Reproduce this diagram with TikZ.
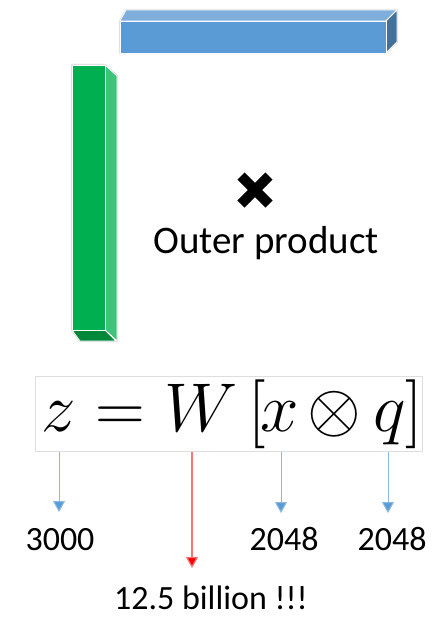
\RequirePackage{fix-cm}
\documentclass[tikz,border=0pt]{standalone}
\usepackage{fontspec}
\setmainfont{Carlito}
\usetikzlibrary{arrows.meta}
\definecolor{bfront}{HTML}{5B9BD5}
\definecolor{btop}{HTML}{7FAEDD}
\definecolor{bright}{HTML}{41719C}
\definecolor{gfront}{HTML}{00B050}
\definecolor{gright}{HTML}{3CC47A}
\definecolor{gbot}{HTML}{00883A}
\definecolor{arrblue}{HTML}{5B9BD5}
\tikzset{
  face/.style={line width=0.8pt, draw=white, line join=round},
  halo/.style={line width=2.2pt, draw=black!12, line join=round},
  mathsym/.style={anchor=base, inner sep=0pt, font=\fontsize{69}{80}\selectfont},
  lbl/.style={anchor=base, inner sep=0pt, font=\fontsize{34}{40}\selectfont},
  arr/.style={draw=arrblue!70, line width=1pt, -{Triangle[length=11pt,width=12pt,fill=arrblue]}},
  redarr/.style={draw=red!55, line width=1.2pt, -{Triangle[length=11pt,width=12pt,fill=red]}},
}
\begin{document}
\begin{tikzpicture}[x=1pt,y=-1pt]
\useasboundingbox (0,0) rectangle (439,619);
% blue bar
\draw[halo] (120,21) -- (126,10) -- (397,10) -- (397,42) -- (386,53) -- (120,53) -- cycle;
\filldraw[face, fill=btop] (120,21) -- (126,10) -- (397,10) -- (386,21) -- cycle;
\filldraw[face, fill=bright] (386,21) -- (397,10) -- (397,42) -- (386,53) -- cycle;
\filldraw[face, fill=bfront] (120,21) rectangle (386,53);
% green bar
\draw[halo] (72,65) -- (105,65) -- (117,76) -- (117,341) -- (80,341) -- (72,330) -- cycle;
\filldraw[face, fill=gright] (105,65) -- (117,76) -- (117,341) -- (105,330) -- cycle;
\filldraw[face, fill=gbot] (72,330) -- (105,330) -- (116,341) -- (80,341) -- cycle;
\filldraw[face, fill=gfront] (72,65) rectangle (105,330);
% cross
\draw[line width=10pt] (241,176) -- (269,204);
\draw[line width=10pt] (269,176) -- (241,204);
\node[anchor=base, inner sep=0pt, font=\fontsize{39}{47}\selectfont] (op) at (266,253) {Outer product};
% equation box
\node[draw=black!13, line width=1pt, minimum width=387pt, minimum height=75pt, inner sep=0pt] (box) at (228.5,413.5) {};
\node[mathsym] (z) at (59,431) {$z$};
\node[mathsym] (eq) at (120,431) {$=$};
\node[mathsym] (W) at (201,431) {$W$};
\node[mathsym] (lb) at (257,431) {$[$};
\node[mathsym] (x) at (280,431) {$x$};
\node[mathsym] (ot) at (334,431) {$\otimes$};
\node[mathsym] (q) at (390,431) {$q$};
\node[mathsym] (rb) at (414,431) {$]$};
% labels
\node[lbl] (n3000) at (60,550) {3000};
\node[lbl] (n2048a) at (284,550) {2048};
\node[lbl] (n2048b) at (392,550) {2048};
\node[lbl] (bil) at (211,609) {12.5 billion !!!};
% arrow ends
\coordinate (t1) at (59,512);
\coordinate (t2) at (192,568);
\coordinate (t3) at (281,513);
\coordinate (t4) at (388,513);
\draw[arr] (box.south -| t1) -- (t1);
\draw[redarr] (box.south -| t2) -- (t2);
\draw[arr] (box.south -| t3) -- (t3);
\draw[arr] (box.south -| t4) -- (t4);
\end{tikzpicture}
\end{document}
